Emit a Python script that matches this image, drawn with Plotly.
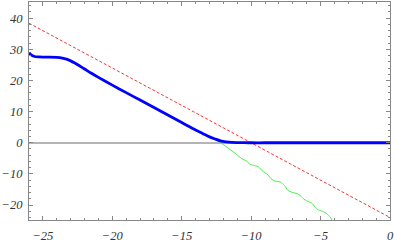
import plotly.graph_objects as go

# Blue curve
blue_x = [-26, -25.85, -25.6, -25.3, -25.0, -24.5, -24.0, -23.6, -23.3, -23.0, -22.7, -22.4,
          -22.0, -21.5, -21.0, -20.0, -19.0, -18.0, -17.0, -16.0, -15.0, -14.0, -13.5,
          -13.0, -12.6, -12.2, -11.8, -11.4, -11.0, -10.5, -10.0, -9.0, -8.0, -6.0, -4.0,
          -2.0, 0.0]
blue_y = [28.9, 28.2, 27.7, 27.55, 27.5, 27.5, 27.4, 27.2, 26.85, 26.3, 25.6, 24.8,
          23.7, 22.3, 21.0, 18.5, 16.1, 13.7, 11.3, 8.9, 6.5, 4.1, 3.0,
          1.9, 1.2, 0.6, 0.3, 0.12, 0.05, 0.02, 0.0, 0.0, 0.0, 0.0, 0.0,
          0.0, 0.0]

# Green wavy curve
green_x = [-12.6, -12.1, -11.6, -11.15, -10.7, -10.3, -10.05, -9.75, -9.45, -9.2, -9.0, -8.8,
           -8.5, -8.25, -7.9, -7.6, -7.35, -7.0, -6.7, -6.45, -6.2, -5.95, -5.65, -5.4,
           -5.15, -4.85, -4.55, -4.3, -4.15]
green_y = [1.1, -0.3, -1.9, -3.4, -5.0, -6.0, -7.0, -7.3, -7.8, -9.0, -9.6, -10.3,
           -11.8, -12.3, -12.6, -13.7, -15.3, -16.0, -16.3, -17.0, -18.1, -18.8, -19.3, -20.6,
           -21.6, -22.0, -22.8, -23.9, -25.0]

# Red dashed asymptote
red_x = [-26, 0]
red_y = [38.4, -24.0]

x_ticks = [-25, -20, -15, -10, -5, 0]
y_ticks = [-20, -10, 0, 10, 20, 30, 40]

fig = go.Figure()
fig.add_trace(go.Scatter(x=red_x, y=red_y, mode="lines",
                         line=dict(color="#ff3030", width=1, dash="3px,2px")))
fig.add_trace(go.Scatter(x=green_x, y=green_y, mode="lines",
                         line=dict(color="#44ee44", width=1, shape="spline", smoothing=0.6)))
fig.add_trace(go.Scatter(x=blue_x, y=blue_y, mode="lines",
                         line=dict(color="#0000ff", width=2.8, shape="spline", smoothing=0.8)))

axis_font = dict(family="Liberation Serif", size=12.5, color="#333333", style="italic")

fig.update_layout(
    width=395, height=244,
    margin=dict(l=29, r=5, t=1, b=21),
    paper_bgcolor="white", plot_bgcolor="white",
    showlegend=False,
    xaxis=dict(range=[-26, 0], tickvals=x_ticks, ticks="inside", ticklen=4,
               tickcolor="#888888", showline=True, linecolor="#888888", linewidth=1,
               mirror="ticks", showgrid=False, zeroline=False, tickfont=axis_font,
               ticklabelstandoff=4,
               minor=dict(dtick=1, ticks="inside", ticklen=2, tickcolor="#888888", showgrid=False)),
    yaxis=dict(range=[-24.8, 45.2], tickvals=y_ticks, ticks="inside", ticklen=4,
               tickcolor="#888888", showline=True, linecolor="#888888", linewidth=1,
               mirror="ticks", showgrid=False, zeroline=True, zerolinecolor="#b4b4b4",
               zerolinewidth=1.8, tickfont=axis_font, ticklabelstandoff=3,
               minor=dict(dtick=2, ticks="inside", ticklen=2, tickcolor="#888888", showgrid=False)),
)

fig.write_html("out.html", config={"displayModeBar": False},
               post_script="document.body.style.margin='0';document.body.style.padding='0';")
